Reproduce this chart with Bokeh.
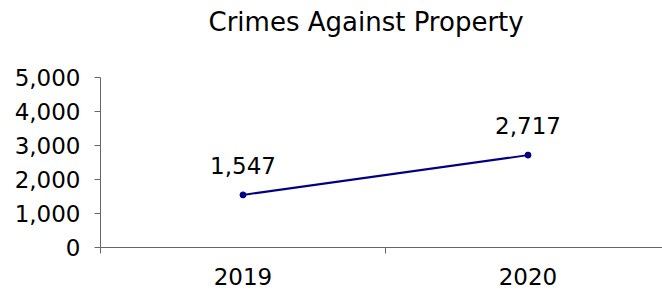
from bokeh.plotting import figure
from bokeh.models import ColumnDataSource, FixedTicker, LabelSet, Range1d, NumeralTickFormatter, LinearAxis
from bokeh.core.properties import value
from bokeh.embed import file_html
from bokeh.resources import INLINE

years = ["2019", "2020"]
values = [1547, 2717]
x_pos = [0.5, 1.5]
y_ticks = [0, 1000, 2000, 3000, 4000, 5000]

FONT = "DejaVu Sans"
AX = "#666666"

src = ColumnDataSource(dict(x=x_pos, y=values, lab=[f"{v:,}" for v in values]))

p = figure(width=662, height=290, output_backend="svg", toolbar_location=None,
           x_range=Range1d(0, 562 / 285), y_range=Range1d(0, 5000),
           min_border_left=100, min_border_right=0, min_border_bottom=43, min_border_top=0)
p.title.text = "Crimes Against Property"
p.title.text_font = FONT
p.title.text_font_size = "26px"
p.title.text_font_style = "normal"
p.title.align = "left"
p.title.offset = 108
p.title.standoff = 9
p.title.text_color = "black"

# invisible spacer between title and plot area (white tick on white background)
spacer = LinearAxis(ticker=FixedTicker(ticks=[x_pos[0]], minor_ticks=[]), major_tick_out=36,
                    major_tick_in=0, minor_tick_out=0, axis_line_color=None,
                    major_tick_line_color="white", minor_tick_line_color=None,
                    major_label_overrides={x_pos[0]: ""},
                    major_label_text_font_size="1px", major_label_text_color="white",
                    major_label_standoff=0)
p.add_layout(spacer, "above")

p.line("x", "y", source=src, line_color="#000080", line_width=2)
p.scatter("x", "y", source=src, size=6, fill_color="#000080", line_color="#000080")
p.add_layout(LabelSet(x="x", y="y", text="lab", source=src, y_offset=21,
                      text_align="center", text_baseline="alphabetic",
                      text_font=value(FONT), text_font_size="23px", text_color="black"))

p.xgrid.visible = False
p.ygrid.visible = False
p.outline_line_color = None
p.background_fill_color = "white"
p.border_fill_color = "white"

xa = p.below[0]
xa.ticker = FixedTicker(ticks=x_pos, minor_ticks=[0, 1, 2])
xa.major_label_overrides = {x: y for x, y in zip(x_pos, years)}
xa.major_tick_out = 0
xa.major_tick_in = 0
xa.minor_tick_out = 6
xa.minor_tick_in = 0
xa.minor_tick_line_color = AX
xa.axis_line_color = AX
xa.major_label_text_font = FONT
xa.major_label_text_font_size = "23px"
xa.major_label_text_color = "black"
xa.major_label_standoff = 14

ya = p.left[0]
ya.ticker = FixedTicker(ticks=y_ticks, minor_ticks=[])
ya.formatter = NumeralTickFormatter(format="0,0")
ya.major_tick_out = 6
ya.major_tick_in = 0
ya.major_tick_line_color = AX
ya.axis_line_color = AX
ya.major_label_text_font = FONT
ya.major_label_text_font_size = "23px"
ya.major_label_text_color = "black"
ya.major_label_standoff = 14

open("out.html", "w").write(file_html(p, INLINE))
